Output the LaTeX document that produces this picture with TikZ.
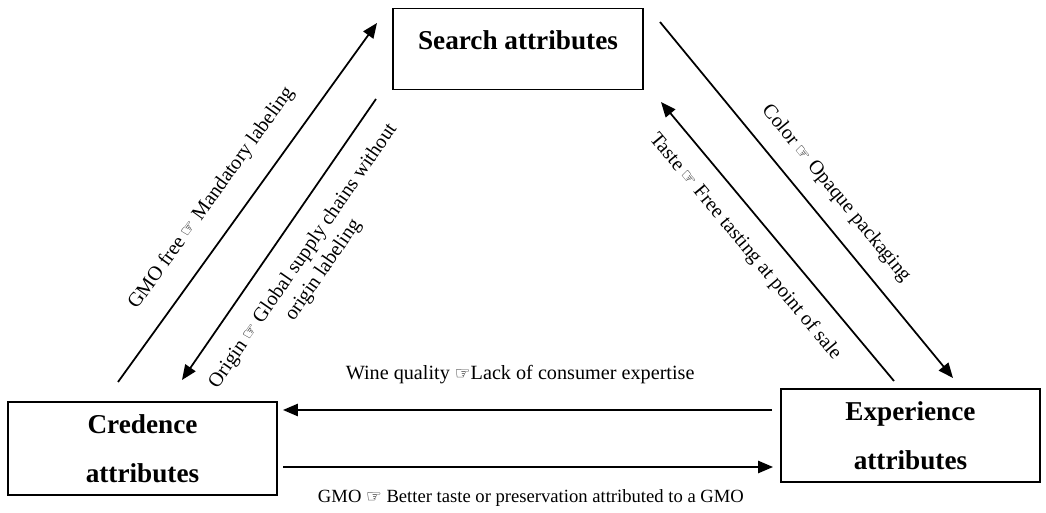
\documentclass[tikz,border=0pt]{standalone}
\usepackage{fontspec}
\setmainfont{Liberation Serif}
\newfontfamily\handfont{DejaVu Sans}
\usetikzlibrary{arrows.meta}
\newcommand{\hand}{{\handfont\fontsize{10}{10}\selectfont ☞}}

\begin{document}
\begin{tikzpicture}[x=0.02cm, y=-0.02cm,
    attrbox/.style={draw, line width=0.8pt, align=center, inner sep=0pt,
      font=\fontsize{15.5}{28}\selectfont\bfseries},
    link/.style={line width=1pt, -{Triangle[length=8.5pt,width=7pt]}},
    lbl/.style={font=\fontsize{11.5}{14}\selectfont, inner sep=0pt, align=center}]
  \useasboundingbox (0,0) rectangle (1046,513);

  % the three kinds of attributes
  \node[attrbox, minimum width=5cm, minimum height=1.63cm, text depth=0.34cm]
    (search) at (518,49) {Search attributes};
  \node[attrbox, minimum width=5.38cm, minimum height=1.86cm]
    (credence) at (142.5,448.5) {Credence\\attributes};
  \node[attrbox, minimum width=5.18cm, minimum height=1.86cm]
    (experience) at (910.5,435.5) {Experience\\attributes};

  % arrow ends
  \coordinate (gmo-s) at (118,382);   \coordinate (gmo-e) at (377,23);
  \coordinate (ori-s) at (376,99);    \coordinate (ori-e) at (182,380);
  \coordinate (col-s) at (660,22);    \coordinate (col-e) at (953,378);
  \coordinate (tas-s) at (894,381);   \coordinate (tas-e) at (661,102);
  \coordinate (win-s) at (772,410);   \coordinate (win-e) at (283,410);
  \coordinate (gmb-s) at (283,467);   \coordinate (gmb-e) at (773,467);

  % shifts between the attributes
  \draw[link] (gmo-s) -- (gmo-e)
    node[lbl, sloped, pos=0.46, above=0.43cm] (gmo-lbl) {GMO free \hand\ Mandatory labeling};
  \draw[link] (ori-s) -- (ori-e)
    node[lbl, sloped, pos=0.5, below=0.39cm] (ori-lbl) {Origin \hand\ Global supply chains without\\origin labeling};
  \draw[link] (col-s) -- (col-e)
    node[lbl, sloped, pos=0.53, above=0.335cm] (col-lbl) {Color \hand\ Opaque packaging};
  \draw[link] (tas-s) -- (tas-e)
    node[lbl, sloped, pos=0.546, below=0.36cm] (tas-lbl) {Taste \hand\ Free tasting at point of sale};
  \draw[link] (win-s) -- (win-e)
    node[lbl, pos=0.515, above=0.5cm] (win-lbl) {Wine quality \hand Lack of consumer expertise};
  \draw[link] (gmb-s) -- (gmb-e)
    node[lbl, font=\fontsize{10.6}{13}\selectfont, pos=0.506, below=0.43cm] (gmb-lbl)
    {GMO \hand\ Better taste or preservation attributed to a GMO};
\end{tikzpicture}
\end{document}
